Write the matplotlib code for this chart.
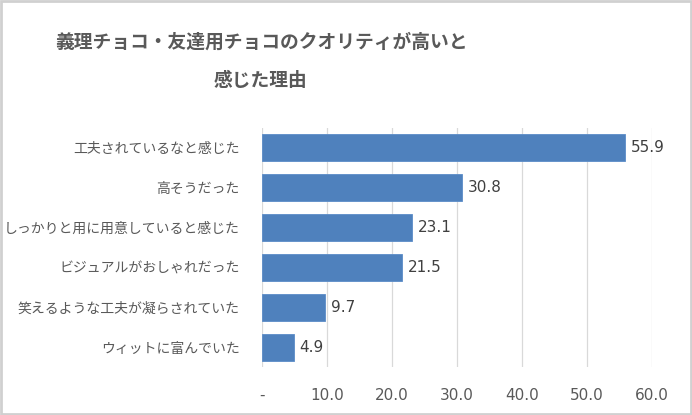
import matplotlib
matplotlib.use('Agg')
import matplotlib.pyplot as plt
from matplotlib.patches import Rectangle

plt.rcParams['font.family'] = ['Noto Sans CJK JP', 'DejaVu Sans']

# Data (top to bottom as shown)
categories = [
    "工夫されているなと感じた",
    "高そうだった",
    "しっかりと用に用意していると感じた",
    "ビジュアルがおしゃれだった",
    "笑えるような工夫が凝らされていた",
    "ウィットに富んでいた",
]
values = [55.9, 30.8, 23.1, 21.5, 9.7, 4.9]
x_ticks = [0, 10, 20, 30, 40, 50, 60]
x_tick_labels = ["-", "10.0", "20.0", "30.0", "40.0", "50.0", "60.0"]

BAR_COLOR = "#4F81BD"
TEXT_COLOR = "#595959"
GRID_COLOR = "#D9D9D9"
NUM_FONT = ['DejaVu Sans']

fig = plt.figure(figsize=(6.92, 4.15), dpi=100)
fig.patch.set_facecolor('white')
ax = fig.add_axes([262 / 692, 1 - 367 / 415, 390 / 692, 239 / 415])

ypos = list(range(len(categories)))
ax.barh(ypos, values, height=0.68, color=BAR_COLOR, edgecolor='#5B8CC8', linewidth=0.6, zorder=2)
ax.set_ylim(len(categories) - 0.5, -0.5)
ax.set_xlim(0, 60)

for y, v in zip(ypos, values):
    ax.text(v + 0.9, y, f"{v:.1f}", va='center', ha='left', fontsize=11,
            color='#404040', family=NUM_FONT)

ax.set_yticks(ypos)
ax.set_yticklabels(categories, fontsize=10, color=TEXT_COLOR)
ax.set_xticks(x_ticks)
ax.set_xticklabels(x_tick_labels, fontsize=11, color=TEXT_COLOR, family=NUM_FONT)
ax.tick_params(axis='both', length=0)
ax.tick_params(axis='y', pad=16)
ax.tick_params(axis='x', pad=15)

ax.grid(axis='x', color=GRID_COLOR, linewidth=0.9, zorder=0)
for s in ax.spines.values():
    s.set_visible(False)

# Title
fig.text(261 / 692, 1 - 42 / 415, "義理チョコ・友達用チョコのクオリティが高いと",
         ha='center', va='center', fontsize=13.5, fontweight='bold', color=TEXT_COLOR)
fig.text(261 / 692, 1 - 80 / 415, "感じた理由",
         ha='center', va='center', fontsize=13.5, fontweight='bold', color=TEXT_COLOR)

# Outer frame
fig.patches.append(Rectangle((0.002, 0.003), 0.996, 0.994, transform=fig.transFigure,
                             fill=False, edgecolor='#D0D0D0', linewidth=2))

fig.savefig('out.png', dpi=100, facecolor='white')
